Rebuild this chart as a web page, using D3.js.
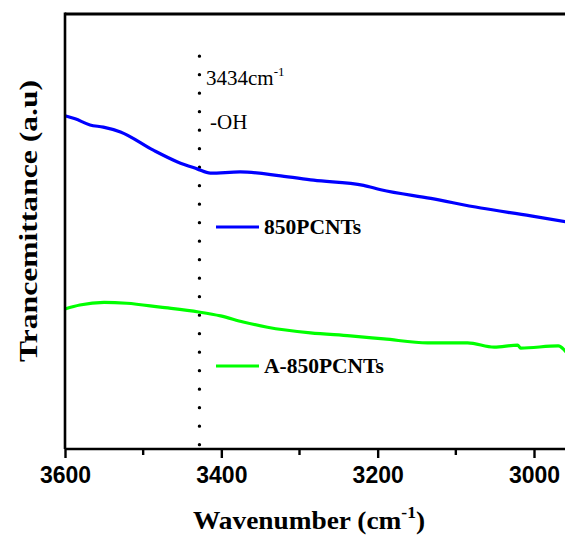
<!DOCTYPE html>
<html>
<head>
<meta charset="utf-8">
<script src="https://cdn.jsdelivr.net/npm/d3@7"></script>
<style>
  body { margin: 0; background: #fff; }
  svg { display: block; }
</style>
</head>
<body>
<svg id="chart" width="565" height="546"></svg>
<script>
// wavenumber (cm-1) / transmittance (a.u.)
const blueWave = [3600, 3587, 3568, 3551, 3529, 3487, 3456, 3431, 3414, 3376, 3324, 3282, 3218, 3196, 3132, 3068, 3004, 2959];
const blueVal  = [76.6, 75.9, 74.5, 74.0, 72.9, 68.7, 66.0, 64.4, 63.4, 63.7, 62.8, 61.8, 60.6, 59.6, 57.6, 55.4, 53.6, 52.2];

const greenWave = [3600, 3581, 3550, 3521, 3478, 3429, 3401, 3372, 3341, 3286, 3235, 3192, 3136, 3085, 3051, 3021, 3017, 2969, 2959];
const greenVal  = [32.2, 33.1, 33.7, 33.5, 32.6, 31.5, 30.6, 29.2, 28.0, 26.7, 26.0, 25.3, 24.4, 24.4, 23.4, 23.9, 23.2, 23.7, 22.3];

const seriesNames = ["850PCNTs", "A-850PCNTs"];
const seriesColors = ["#0000ff", "#00ff00"];

const majorTicks = [3600, 3400, 3200, 3000];
const minorTicks = [3500, 3300, 3100, 2900];

const peakWave = 3428;   // where the dotted marker sits
const peakLabel = "3434cm";
const groupLabel = "-OH";

(function() {
  const svg = d3.select("#chart");
  const left = 65, plotTop = 14, plotBottom = 449;

  const x = d3.scaleLinear().domain([3600, 3000]).range([left, 534]);
  const y = d3.scaleLinear().domain([0, 100]).range([plotBottom, plotTop]);
  const xEnd = x(2880);

  const line = d3.line()
    .x(d => x(d[0]))
    .y(d => y(d[1]))
    .curve(d3.curveMonotoneX);

  const series = [
    d3.zip(blueWave, blueVal),
    d3.zip(greenWave, greenVal)
  ];

  // dotted marker
  svg.append("line")
    .attr("x1", x(peakWave)).attr("x2", x(peakWave))
    .attr("y1", y(1)).attr("y2", y(90.5))
    .attr("stroke", "#000")
    .attr("stroke-width", 3.4)
    .attr("stroke-linecap", "round")
    .attr("stroke-dasharray", "0,18.5");

  series.forEach((s, i) => {
    svg.append("path")
      .datum(s)
      .attr("fill", "none")
      .attr("stroke", seriesColors[i])
      .attr("stroke-width", 3.2)
      .attr("d", line);
  });

  // frame
  svg.append("line")
    .attr("x1", left).attr("x2", xEnd)
    .attr("y1", plotTop).attr("y2", plotTop)
    .attr("stroke", "#000").attr("stroke-width", 3);
  svg.append("line")
    .attr("x1", left).attr("x2", left)
    .attr("y1", plotTop - 1.5).attr("y2", plotBottom)
    .attr("stroke", "#000").attr("stroke-width", 2.6);

  const xAxis = svg.append("g")
    .attr("transform", `translate(0,${plotBottom})`)
    .call(d3.axisBottom(x).tickValues(majorTicks).tickSize(9).tickPadding(9).tickFormat(d3.format("d")));
  xAxis.select(".domain")
    .attr("d", `M${left},0H${xEnd}`)
    .attr("stroke-width", 2.6);
  xAxis.selectAll(".tick line").attr("stroke-width", 2.4);
  xAxis.selectAll(".tick text")
    .attr("font-family", "'Liberation Sans', Arial, sans-serif")
    .attr("font-weight", "bold")
    .attr("font-size", 23)
    .attr("fill", "#000");

  xAxis.selectAll(".minor")
    .data(minorTicks)
    .join("line")
    .attr("class", "minor")
    .attr("x1", d => x(d)).attr("x2", d => x(d))
    .attr("y1", 0).attr("y2", 6)
    .attr("stroke", "#000").attr("stroke-width", 2.4);

  const serif = "'Liberation Serif', 'Times New Roman', serif";

  // axis titles
  const xt = svg.append("text")
    .attr("x", 193).attr("y", 529)
    .attr("font-family", serif).attr("font-weight", "bold")
    .attr("font-size", 25)
    .attr("textLength", 232).attr("lengthAdjust", "spacingAndGlyphs");
  xt.append("tspan").text("Wavenumber (cm");
  xt.append("tspan").attr("dy", -11).attr("font-size", 16).text("-1");
  xt.append("tspan").attr("dy", 11).text(")");

  svg.append("text")
    .attr("transform", "translate(37,362) rotate(-90)")
    .attr("font-family", serif).attr("font-weight", "bold")
    .attr("font-size", 26)
    .attr("textLength", 282).attr("lengthAdjust", "spacingAndGlyphs")
    .text("Trancemittance (a.u)");

  // peak annotation
  const pt = svg.append("text")
    .attr("x", 206).attr("y", 85)
    .attr("font-family", serif)
    .attr("font-size", 21);
  pt.append("tspan").text(peakLabel);
  pt.append("tspan").attr("dy", -9).attr("font-size", 13).text("-1");

  svg.append("text")
    .attr("x", 210).attr("y", 129)
    .attr("font-family", serif)
    .attr("font-size", 21)
    .text(groupLabel);

  // legend
  const legendY = [227, 366];
  seriesNames.forEach((name, i) => {
    svg.append("line")
      .attr("x1", 216).attr("x2", 259)
      .attr("y1", legendY[i]).attr("y2", legendY[i])
      .attr("stroke", seriesColors[i]).attr("stroke-width", 3.2);
    svg.append("text")
      .attr("x", 264).attr("y", legendY[i] + 7)
      .attr("font-family", serif).attr("font-weight", "bold")
      .attr("font-size", 21.5)
      .text(name);
  });
})();
</script>
</body>
</html>
